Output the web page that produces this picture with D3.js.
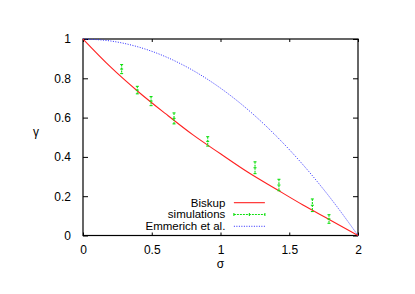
<!DOCTYPE html>
<html>
<head>
<meta charset="utf-8">
<script src="https://cdn.jsdelivr.net/npm/d3@7"></script>
<style>
  body { margin: 0; background: #fff; }
  text { font-family: "Liberation Sans", Arial, sans-serif; font-size: 12px; fill: #000; }
</style>
</head>
<body>
<div id="chart"></div>
<script>
'use strict';

// sigma grid for the two theory curves
const sigmaGrid = [0, 0.2, 0.4, 0.6, 0.8, 1.0, 1.2, 1.4, 1.6, 1.8, 2.0];
const biskupGamma = [1, 0.858, 0.733, 0.620, 0.512, 0.416, 0.322, 0.238, 0.155, 0.078, 0];
const emmerichGamma = [1, 0.99, 0.96, 0.91, 0.84, 0.75, 0.64, 0.51, 0.36, 0.19, 0];

// simulation points with error bars
const simSigma = [0.281, 0.395, 0.495, 0.662, 0.907, 1.251, 1.425, 1.668, 1.789];
const simGamma = [0.847, 0.740, 0.684, 0.596, 0.479, 0.345, 0.257, 0.154, 0.084];
const simError = [0.023, 0.019, 0.023, 0.028, 0.024, 0.030, 0.029, 0.032, 0.022];

const xTicks = [0, 0.5, 1, 1.5, 2];
const yTicks = [0, 0.2, 0.4, 0.6, 0.8, 1];
const legendLabels = ['Biskup', 'simulations', 'Emmerich et al.'];

const red = '#ff2020', green = '#10e010', blue = '#2828ff';

// set the dimensions and margins of the graph
const margin = {top: 39, right: 57, bottom: 58.5, left: 83},
    width = 415 - margin.left - margin.right,
    height = 294 - margin.top - margin.bottom;

const svg = d3.select('#chart')
  .append('svg')
    .attr('width', 415)
    .attr('height', 294)
  .append('g')
    .attr('transform', `translate(${margin.left},${margin.top})`);

const x = d3.scaleLinear().domain([0, 2]).range([0, width]);
const y = d3.scaleLinear().domain([0, 1]).range([height, 0]);

// axes: ticks inside on all four sides, like gnuplot mirror tics
const fmt = d => String(d);
svg.append('g')
    .attr('transform', `translate(0,${height})`)
    .call(d3.axisBottom(x).tickValues(xTicks).tickFormat(fmt).tickSizeInner(-3).tickSizeOuter(0).tickPadding(10))
    .call(g => g.select('.domain').remove());
svg.append('g')
    .call(d3.axisTop(x).tickValues(xTicks).tickFormat('').tickSizeInner(-3).tickSizeOuter(0))
    .call(g => g.select('.domain').remove());
svg.append('g')
    .call(d3.axisLeft(y).tickValues(yTicks).tickFormat(fmt).tickSizeInner(-5).tickSizeOuter(0).tickPadding(12))
    .call(g => g.select('.domain').remove());
svg.append('g')
    .attr('transform', `translate(${width},0)`)
    .call(d3.axisRight(y).tickValues(yTicks).tickFormat('').tickSizeInner(-5).tickSizeOuter(0))
    .call(g => g.select('.domain').remove());

svg.selectAll('.tick line').attr('stroke', '#000');
svg.selectAll('.tick text')
    .style('font-family', '"Liberation Sans", Arial, sans-serif')
    .style('font-size', '12px')
    .attr('fill', '#000');

// border
svg.append('rect')
    .attr('width', width)
    .attr('height', height)
    .attr('fill', 'none')
    .attr('stroke', '#000')
    .attr('stroke-width', 1.2);

// axis labels
svg.append('text')
    .attr('x', x(1))
    .attr('y', height + 32)
    .attr('text-anchor', 'middle')
    .text('σ');
svg.append('text')
    .attr('x', -47)
    .attr('y', y(0.5) - 1)
    .attr('text-anchor', 'middle')
    .text('γ');

const line = d3.line()
    .x(d => x(d[0]))
    .y(d => y(d[1]))
    .curve(d3.curveMonotoneX);

// Emmerich et al.
svg.append('path')
    .datum(sigmaGrid.map((s, i) => [s, emmerichGamma[i]]))
    .attr('fill', 'none')
    .attr('stroke', blue)
    .attr('stroke-width', 1)
    .attr('stroke-dasharray', '1,1.5')
    .attr('d', line);

// Biskup
svg.append('path')
    .datum(sigmaGrid.map((s, i) => [s, biskupGamma[i]]))
    .attr('fill', 'none')
    .attr('stroke', red)
    .attr('stroke-width', 1.1)
    .attr('d', line);

// simulations with error bars
const sims = simSigma.map((s, i) => ({s: s, g: simGamma[i], e: simError[i]}));
const simG = svg.append('g')
    .attr('stroke', green)
    .attr('stroke-width', 1.1);
sims.forEach(d => {
    const cx = x(d.s), top = y(d.g + d.e), bot = y(d.g - d.e);
    simG.append('line').attr('x1', cx).attr('x2', cx).attr('y1', top).attr('y2', bot)
        .attr('stroke-dasharray', '2,1');
    simG.append('line').attr('x1', cx - 1.5).attr('x2', cx + 1.5).attr('y1', top).attr('y2', top);
    simG.append('line').attr('x1', cx - 1.5).attr('x2', cx + 1.5).attr('y1', bot).attr('y2', bot);
    simG.append('line').attr('x1', cx - 1.5).attr('x2', cx + 1.5).attr('y1', y(d.g)).attr('y2', y(d.g));
});

// legend
const legend = svg.append('g')
    .attr('transform', `translate(${x(1.0355)},${y(0.167)})`);
legendLabels.forEach((label, i) => {
    const ly = i * 11.8;
    legend.append('text')
        .attr('x', 0)
        .attr('y', ly)
        .attr('dy', '0.35em')
        .attr('text-anchor', 'end')
        .style('font-size', '11.5px')
        .text(label);
    const lx0 = 8.5, lx1 = 39.5;
    if (i === 0) {
        legend.append('line').attr('x1', lx0).attr('x2', lx1).attr('y1', ly).attr('y2', ly)
            .attr('stroke', red).attr('stroke-width', 1.1);
    } else if (i === 1) {
        const lg = legend.append('g').attr('stroke', green).attr('stroke-width', 1.1);
        lg.append('line').attr('x1', lx0).attr('x2', lx1).attr('y1', ly).attr('y2', ly)
            .attr('stroke-dasharray', '2,1');
        lg.append('line').attr('x1', lx0).attr('x2', lx0).attr('y1', ly - 1.5).attr('y2', ly + 1.5);
        lg.append('line').attr('x1', lx1).attr('x2', lx1).attr('y1', ly - 1.5).attr('y2', ly + 1.5);
        const mx = (lx0 + lx1) / 2;
        lg.append('line').attr('x1', mx).attr('x2', mx).attr('y1', ly - 1.5).attr('y2', ly + 1.5);
    } else {
        legend.append('line').attr('x1', lx0).attr('x2', lx1).attr('y1', ly).attr('y2', ly)
            .attr('stroke', blue).attr('stroke-width', 1).attr('stroke-dasharray', '1,1.5');
    }
});
</script>
</body>
</html>
